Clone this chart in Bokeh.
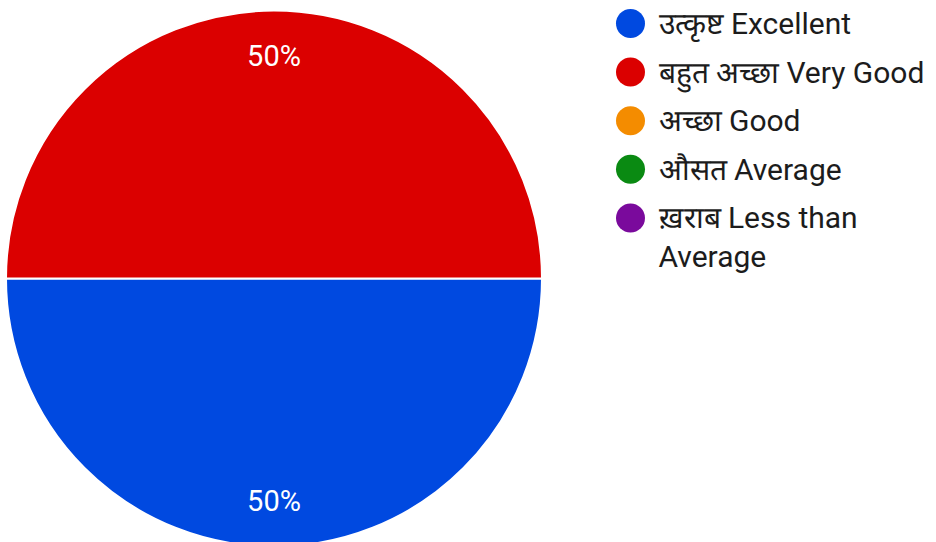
import math
from bokeh.plotting import figure
from bokeh.models import Range1d, ColumnDataSource
from bokeh.core.properties import value
from bokeh.embed import file_html
from bokeh.resources import INLINE

# ---- data ----
categories = ["उत्कृष्ट Excellent", "बहुत अच्छा Very Good", "अच्छा Good",
              "औसत Average", "ख़राब Less than\nAverage"]
values = [50, 50, 0, 0, 0]
colors = ["#0049E0", "#DB0000", "#F48C00", "#0A8A12", "#7A0A9C"]

W, H = 936, 542
p = figure(width=W, height=H, output_backend="svg", toolbar_location=None,
           x_range=Range1d(0, W), y_range=Range1d(0, H),
           min_border=0, outline_line_color=None)
p.axis.visible = False
p.grid.visible = False
p.background_fill_color = "white"
p.border_fill_color = "white"

def sy(screen_y):
    return H - screen_y

cx, cy, r = 273.5, sy(278), 268
total = sum(values)
start = math.pi
starts, ends, wcols, lx, ly, ltxt = [], [], [], [], [], []
for v, col in zip(values, colors):
    a0 = start
    a1 = start + 2 * math.pi * v / total
    if v > 0:
        starts.append(a0)
        ends.append(a1)
        wcols.append(col)
        mid = (a0 + a1) / 2
        lx.append(cx + 0.83 * r * math.cos(mid))
        ly.append(cy + 0.83 * r * math.sin(mid))
        ltxt.append(f"{v / total * 100:.0f}%")
    start = a1

src = ColumnDataSource(dict(s=starts, e=ends, c=wcols))
p.wedge(x=cx, y=cy, radius=r, start_angle="s", end_angle="e",
        fill_color="c", line_color="white", line_width=2, source=src)

p.text(x=lx, y=ly, text=ltxt, text_color="white", text_font=value("Roboto"),
       text_font_size="29px", text_align="center", text_baseline="middle")

# legend
lgx, lgy0, step = 630, 23, 48.6
dots_x, dots_y = [], []
tx, ty, tt = [], [], []
for i, (cat, col) in enumerate(zip(categories, colors)):
    yy = lgy0 + i * step
    dots_x.append(lgx)
    dots_y.append(sy(yy))
    for j, line in enumerate(cat.split("\n")):
        tx.append(lgx + 28)
        ty.append(sy(yy + j * 39))
        tt.append(line)
p.scatter(x=dots_x, y=dots_y, size=29, fill_color=colors, line_color=None)
p.text(x=tx, y=ty, text=tt, text_color="#1c1c1c", text_font=value("Roboto"),
       text_font_size="30px", text_align="left", text_baseline="middle")

open("out.html", "w").write(file_html(p, INLINE))
